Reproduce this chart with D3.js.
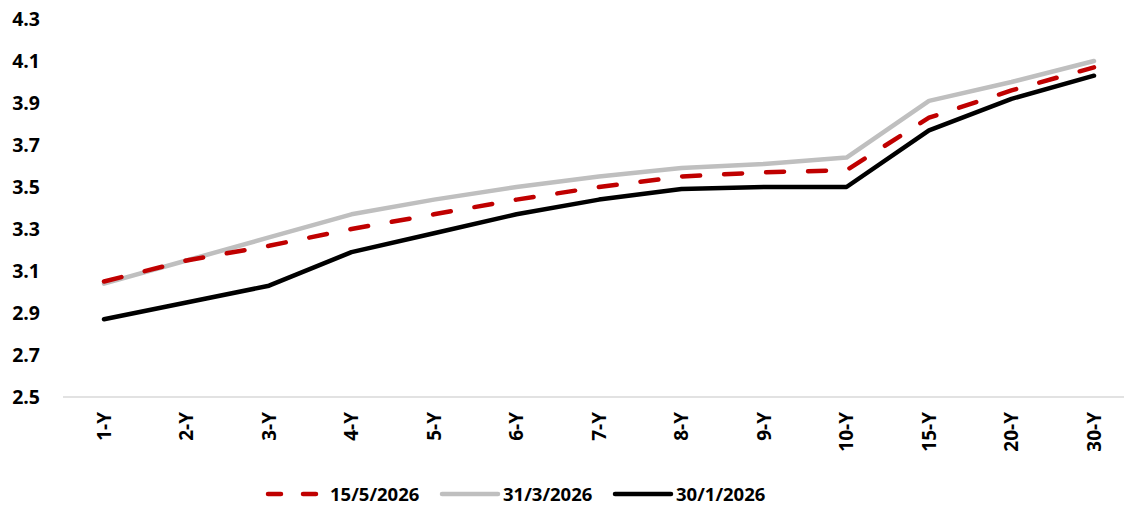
<!DOCTYPE html>
<html>
<head>
<meta charset="utf-8">
<script src="https://cdn.jsdelivr.net/npm/d3@7"></script>
<style>
  body { margin: 0; background: #fff; }
  text { font-family: "Open Sans", Lato, sans-serif; font-weight: bold; fill: #000; }
</style>
</head>
<body>
<svg width="1124" height="507"></svg>
<script>
var tenors = ["1-Y","2-Y","3-Y","4-Y","5-Y","6-Y","7-Y","8-Y","9-Y","10-Y","15-Y","20-Y","30-Y"];
var may15 = [3.05,3.15,3.22,3.30,3.37,3.44,3.50,3.55,3.57,3.58,3.83,3.96,4.07];
var mar31 = [3.04,3.15,3.26,3.37,3.44,3.50,3.55,3.59,3.61,3.64,3.91,4.00,4.10];
var jan30 = [2.87,2.95,3.03,3.19,3.28,3.37,3.44,3.49,3.50,3.50,3.77,3.92,4.03];
var yTicks = [2.5,2.7,2.9,3.1,3.3,3.5,3.7,3.9,4.1,4.3];

var series = [
  {name: "15/5/2026", values: may15, color: "#c00000", dash: "18,24"},
  {name: "31/3/2026", values: mar31, color: "#bfbfbf", dash: null},
  {name: "30/1/2026", values: jan30, color: "#000000", dash: null}
];

var svg = d3.select("svg");

var x = d3.scalePoint()
    .domain(tenors)
    .range([104, 1094]);

var y = d3.scaleLinear()
    .domain([2.5, 4.3])
    .range([397, 19]);

// y labels
svg.append("g").selectAll("text")
    .data(yTicks)
  .enter().append("text")
    .attr("x", 40)
    .attr("y", function(d) { return y(d); })
    .attr("dy", "0.36em")
    .attr("text-anchor", "end")
    .style("font-size", "19.5px")
    .text(function(d) { return d3.format(".1f")(d); });

// baseline
svg.append("line")
    .attr("x1", 63).attr("x2", 1124)
    .attr("y1", y(2.5)).attr("y2", y(2.5))
    .attr("stroke", "#d9d9d9")
    .attr("stroke-width", 1.5);

// x labels rotated
svg.append("g").selectAll("text")
    .data(tenors)
  .enter().append("text")
    .attr("transform", function(d) { return "translate(" + x(d) + ",412) rotate(-90)"; })
    .attr("dy", "0.36em")
    .attr("text-anchor", "end")
    .style("font-size", "19px")
    .text(function(d) { return d; });

var line = d3.line()
    .x(function(d, i) { return x(tenors[i]); })
    .y(function(d) { return y(d); });

// gray, black, then red on top
[series[1], series[2], series[0]].forEach(function(s) {
  svg.append("path")
      .datum(s.values)
      .attr("d", line)
      .attr("fill", "none")
      .attr("stroke", s.color)
      .attr("stroke-width", 4.5)
      .attr("stroke-linecap", "round")
      .attr("stroke-linejoin", "round")
      .attr("stroke-dasharray", s.dash);
});

// legend
var legendPos = [268, 442, 615];
var legend = svg.selectAll(".legend")
    .data(series)
  .enter().append("g")
    .attr("class", "legend")
    .attr("transform", function(d, i) { return "translate(" + legendPos[i] + ",494)"; });

legend.append("line")
    .attr("x1", 0).attr("x2", function(d) { return d.dash ? 52 : 56; })
    .attr("y1", 0).attr("y2", 0)
    .attr("stroke", function(d) { return d.color; })
    .attr("stroke-width", 4.5)
    .attr("stroke-linecap", "round")
    .attr("stroke-dasharray", function(d) { return d.dash ? "13,22" : null; });

legend.append("text")
    .attr("x", function(d) { return d.dash ? 62 : 61; })
    .attr("y", 0)
    .attr("dy", "0.36em")
    .style("font-size", "18.5px")
    .text(function(d) { return d.name; });
</script>
</body>
</html>
